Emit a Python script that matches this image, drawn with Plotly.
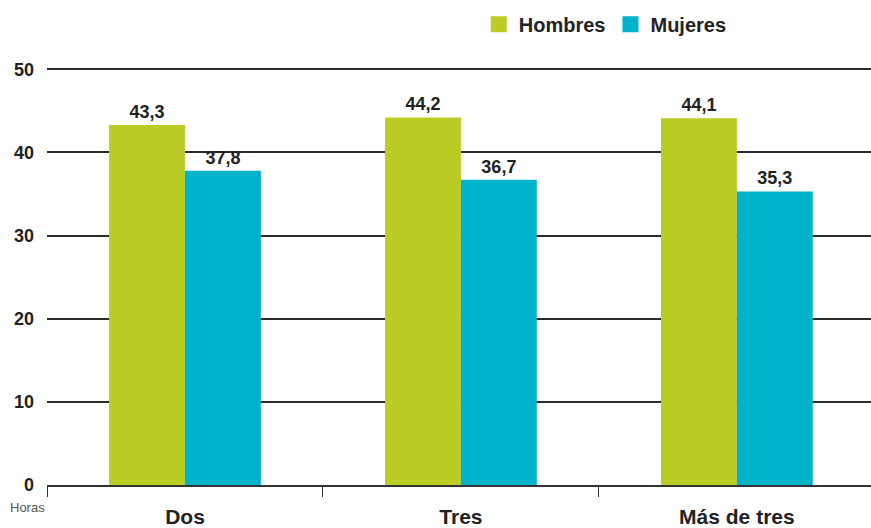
import plotly.graph_objects as go

categories = ["Dos", "Tres", "Más de tres"]
hombres = [43.3, 44.2, 44.1]
mujeres = [37.8, 36.7, 35.3]
y_ticks = [0, 10, 20, 30, 40, 50]

GREEN = "#BBCD25"
BLUE = "#00B2CA"
FONT = "Liberation Sans, Arial, sans-serif"

fig = go.Figure()
fig.add_trace(go.Bar(x=categories, y=hombres, name="Hombres", marker=dict(color=GREEN, line=dict(width=0)),
                     texttemplate="<b>%{y:.1f}</b>", textposition="outside",
                     textfont=dict(size=18, color="#222", family=FONT), cliponaxis=False, showlegend=False))
fig.add_trace(go.Bar(x=categories, y=mujeres, name="Mujeres", marker=dict(color=BLUE, line=dict(width=0)),
                     texttemplate="<b>%{y:.1f}</b>", textposition="outside",
                     textfont=dict(size=18, color="#222", family=FONT), cliponaxis=False, showlegend=False))
# legend entries
for name, col in [("Hombres", GREEN), ("Mujeres", BLUE)]:
    fig.add_trace(go.Scatter(x=[None], y=[None], mode="markers", name="<b>" + name + "</b>",
                             marker=dict(symbol="square", size=16, color=col)))

fig.update_layout(
    width=871, height=528,
    margin=dict(l=47, r=0, t=68, b=43, autoexpand=False),
    plot_bgcolor="white", paper_bgcolor="white",
    separators=",.",
    barmode="group", bargap=0.45, bargroupgap=0,
    font=dict(family=FONT, color="#222"),
    legend=dict(orientation="h", x=0.524, y=1.105, xanchor="left", yanchor="middle",
                font=dict(size=20, color="#222", family=FONT), itemwidth=30,
                bgcolor="rgba(0,0,0,0)"),
    xaxis=dict(range=[-0.5, 2.486], showline=True, linecolor="#333", linewidth=1.5,
               ticks="outside", tickson="boundaries", ticklen=10, tickcolor="#333", tickwidth=1,
               tickfont=dict(size=21, color="#222", family=FONT),
               tickvals=categories, ticktext=["<b>" + c + "</b>" for c in categories],
               ticklabelstandoff=12, showgrid=False),
    yaxis=dict(range=[0, 50.15], tickvals=y_ticks, ticktext=["<b>%d</b>" % v for v in y_ticks],
               showgrid=True, gridcolor="#2a2a2a", gridwidth=1.5, zeroline=False,
               tickfont=dict(size=18, color="#222", family=FONT), ticks="", ticklabelstandoff=12),
    annotations=[dict(text="Horas", xref="paper", yref="paper", x=-0.047, y=-0.055,
                      xanchor="left", yanchor="middle", showarrow=False,
                      font=dict(size=13, color="#555", family=FONT))],
)

fig.write_html("out.html")
